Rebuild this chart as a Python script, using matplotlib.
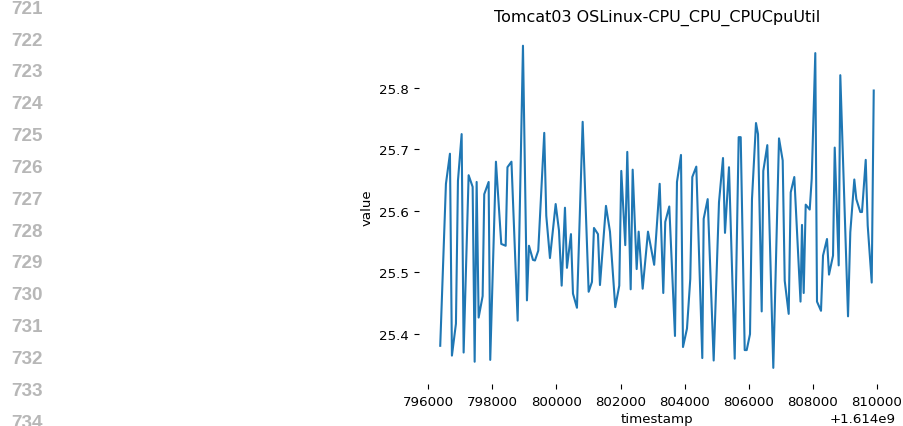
#!/usr/bin/env python3
import matplotlib
matplotlib.use('Agg')
import matplotlib.pyplot as plt
import numpy as np

# editor gutter line numbers shown on the left
gutter_lines = list(range(721, 735))

# timestamps as offset from 1.614e9
ts_offset = [
    796374, 796552, 796677, 796739, 796864, 796927, 797042, 797104, 797260, 797385,
    797448, 797510, 797572, 797697, 797747, 797884, 797934, 798112, 798278, 798415,
    798471, 798596, 798789, 798955, 799079, 799142, 799267, 799329, 799432, 799619,
    799682, 799797, 799975, 800078, 800162, 800265, 800327, 800452, 800515, 800639,
    800817, 801004, 801107, 801170, 801295, 801357, 801544, 801669, 801834, 801959,
    802022, 802146, 802209, 802315, 802377, 802502, 802564, 802689, 802855, 803048,
    803220, 803332, 803394, 803519, 803697, 803759, 803884, 803947, 804071, 804174,
    804237, 804362, 804549, 804592, 804717, 804904, 805070, 805195, 805257, 805382,
    805560, 805684, 805747, 805872, 805934, 806037, 806099, 806224, 806287, 806402,
    806452, 806577, 806764, 806942, 807057, 807120, 807244, 807307, 807419, 807613,
    807659, 807712, 807775, 807900, 807962, 808074, 808127, 808252, 808315, 808439,
    808502, 808627, 808680, 808804, 808854, 809095, 809166, 809291, 809354, 809478,
    809531, 809647, 809709, 809834, 809897,
]
cpu_values = [
    25.380, 25.644, 25.693, 25.364, 25.416, 25.649, 25.725, 25.369, 25.658, 25.639,
    25.354, 25.647, 25.426, 25.461, 25.627, 25.647, 25.357, 25.680, 25.546, 25.543,
    25.671, 25.680, 25.421, 25.869, 25.454, 25.543, 25.520, 25.519, 25.535, 25.727,
    25.592, 25.523, 25.611, 25.568, 25.478, 25.605, 25.507, 25.562, 25.465, 25.442,
    25.745, 25.468, 25.484, 25.572, 25.562, 25.479, 25.608, 25.566, 25.443, 25.478,
    25.665, 25.544, 25.696, 25.472, 25.667, 25.505, 25.566, 25.473, 25.566, 25.512,
    25.644, 25.466, 25.582, 25.607, 25.396, 25.647, 25.691, 25.378, 25.408, 25.489,
    25.655, 25.672, 25.360, 25.587, 25.619, 25.356, 25.614, 25.686, 25.564, 25.671,
    25.359, 25.720, 25.720, 25.373, 25.373, 25.399, 25.619, 25.743, 25.725, 25.436,
    25.665, 25.707, 25.344, 25.718, 25.682, 25.486, 25.432, 25.630, 25.655, 25.452,
    25.577, 25.466, 25.610, 25.602, 25.652, 25.857, 25.452, 25.437, 25.527, 25.554,
    25.496, 25.527, 25.703, 25.511, 25.821, 25.428, 25.565, 25.651, 25.619, 25.598,
    25.598, 25.683, 25.576, 25.483, 25.796,
]

title = 'Tomcat03 OSLinux-CPU_CPU_CPUCpuUtil'


def main():
    timestamps = 1.614e9 + np.array(ts_offset, dtype=float)

    fig = plt.figure(figsize=(9.04, 4.27), dpi=100)

    # gutter numbers (last one is cut by the bottom edge, as in the screenshot)
    for ii, num in enumerate(gutter_lines):
        y = 1 - (9.3 + ii * 31.83) / 427
        fig.text(11 / 904, y, str(num), fontsize=13.6, fontweight='bold',
                 family='Liberation Sans', color='#b7b7b7', va='center', ha='left')

    ax = fig.add_axes([0.463, 0.0984, 0.9905 - 0.463, 0.9283 - 0.0984])
    ax.plot(timestamps, cpu_values, color='#1f77b4', linewidth=1.5)
    ax.set_title(title, fontsize=11.5)
    ax.set_xlabel('timestamp', fontsize=9.6, labelpad=2.5)
    ax.set_ylabel('value', fontsize=9.6)
    ax.set_yticks([25.4, 25.5, 25.6, 25.7, 25.8])
    ax.tick_params(labelsize=9.6)
    ax.tick_params(axis='x', pad=4.5)
    ax.xaxis.get_offset_text().set_fontsize(9.6)
    for side in ['top', 'right', 'left', 'bottom']:
        ax.spines[side].set_visible(False)

    fig.savefig('out.png', dpi=100)
    return


if __name__ == '__main__':
    main()
